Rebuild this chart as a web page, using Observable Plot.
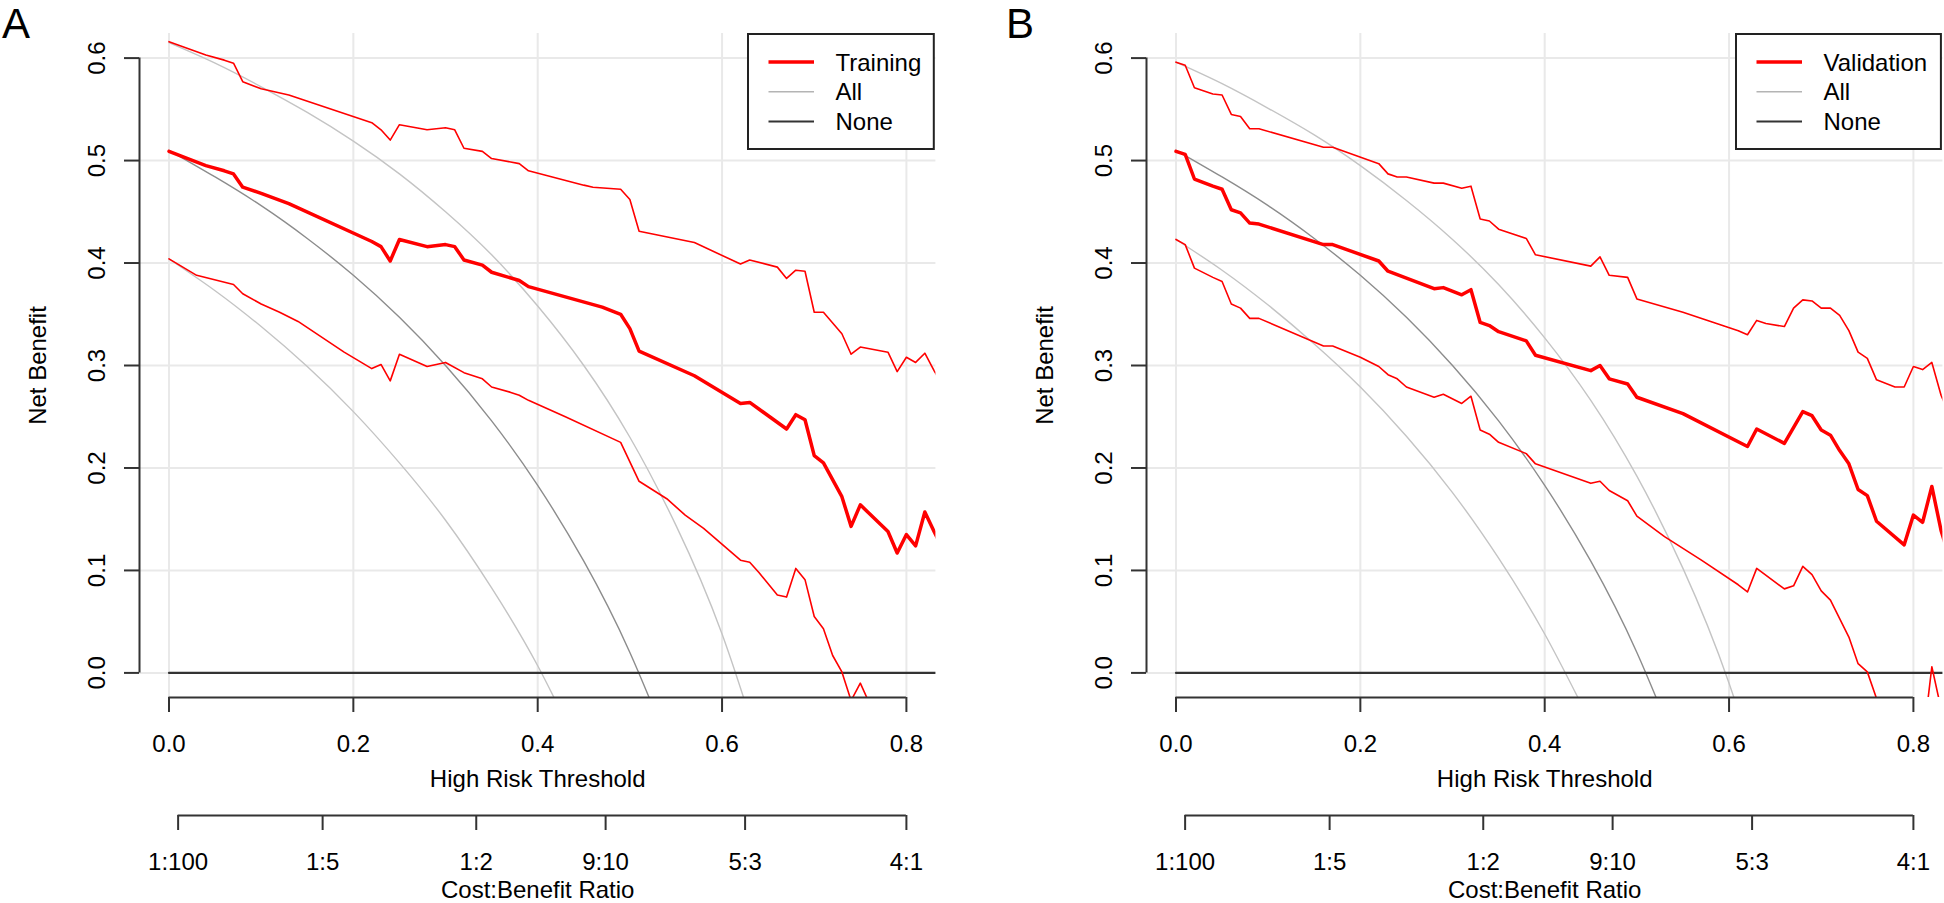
<!DOCTYPE html>
<html>
<head>
<meta charset="utf-8">
<script src="https://cdn.jsdelivr.net/npm/d3@7"></script>
<script src="https://cdn.jsdelivr.net/npm/@observablehq/plot@0.6"></script>
<style>
  html, body { margin: 0; padding: 0; background: #fff; }
  #wrap { position: relative; width: 1944px; height: 903px; overflow: hidden; font-family: "Liberation Sans", Arial, sans-serif; }
  .panel { position: absolute; top: 0; }
  .panel svg { max-width: none !important; }
  .letter { position: absolute; top: 0; font-size: 42px; line-height: normal; color: #000; }
</style>
</head>
<body>
<div id="wrap"></div>
<script>
// ---------------- data ----------------
const xTicks = [0, 0.2, 0.4, 0.6, 0.8];
const yTicks = [0, 0.1, 0.2, 0.3, 0.4, 0.5, 0.6];
const xLimits = [0, 0.8];
const yLimits = [0, 0.6];
const cbLabels = ["1:100", "1:5", "1:2", "9:10", "5:3", "4:1"];
const panelLetters = ["A", "B"];
const modelNames = ["Training", "Validation"];
const legendOthers = ["All", "None"];

// "None" reference
const noneT = [0, 0.84];
const noneV = [0, 0];

// "All" curves (read at threshold steps of 0.05)
const allT = [0, 0.05, 0.1, 0.15, 0.2, 0.25, 0.3, 0.35, 0.4, 0.45, 0.5, 0.55, 0.6, 0.65];
const allHiA  = [0.615, 0.595, 0.572, 0.547, 0.519, 0.487, 0.450, 0.408, 0.358, 0.300, 0.230, 0.144, 0.038, -0.100];
const allMidA = [0.510, 0.484, 0.456, 0.424, 0.388, 0.347, 0.300, 0.246, 0.183, 0.109, 0.020, -0.089];
const allLoA  = [0.404, 0.373, 0.338, 0.299, 0.255, 0.205, 0.149, 0.083, 0.007, -0.084];
const allHiB  = [0.596, 0.575, 0.551, 0.525, 0.495, 0.461, 0.423, 0.379, 0.327, 0.266, 0.192, 0.102, -0.010, -0.154];
const allMidB = [0.510, 0.484, 0.456, 0.424, 0.388, 0.347, 0.300, 0.246, 0.183, 0.109, 0.020, -0.089];
const allLoB  = [0.423, 0.393, 0.359, 0.321, 0.279, 0.231, 0.176, 0.112, 0.038, -0.049];

// Training (panel A)
const trainHiT = [0,0.04,0.06,0.07,0.08,0.10,0.13,0.22,0.23,0.24,0.25,0.28,0.30,0.31,0.32,0.34,0.35,0.38,0.39,0.45,0.46,0.49,0.50,0.51,0.57,0.62,0.63,0.66,0.67,0.68,0.69,0.70,0.71,0.73,0.74,0.75,0.78,0.79,0.80,0.81,0.82,0.83,0.84];
const trainHiV = [0.616,0.603,0.598,0.595,0.577,0.570,0.564,0.537,0.530,0.520,0.535,0.530,0.532,0.530,0.512,0.509,0.502,0.497,0.490,0.476,0.474,0.472,0.462,0.431,0.420,0.399,0.403,0.396,0.385,0.393,0.392,0.352,0.352,0.331,0.311,0.318,0.313,0.294,0.308,0.303,0.312,0.295,0.28];
const trainMidT = [0,0.04,0.06,0.07,0.08,0.10,0.13,0.22,0.23,0.24,0.25,0.28,0.30,0.31,0.32,0.34,0.35,0.38,0.39,0.47,0.49,0.50,0.51,0.57,0.62,0.63,0.67,0.68,0.69,0.70,0.71,0.73,0.74,0.75,0.78,0.79,0.80,0.81,0.82,0.83,0.84];
const trainMidV = [0.509,0.495,0.490,0.487,0.474,0.468,0.458,0.421,0.416,0.402,0.423,0.416,0.418,0.416,0.403,0.398,0.391,0.383,0.377,0.357,0.350,0.336,0.314,0.290,0.263,0.264,0.238,0.252,0.247,0.212,0.205,0.172,0.143,0.164,0.138,0.117,0.135,0.124,0.157,0.138,0.12];
const trainLoT = [0,0.03,0.07,0.08,0.10,0.12,0.14,0.19,0.22,0.23,0.24,0.25,0.28,0.30,0.32,0.34,0.35,0.37,0.38,0.39,0.43,0.49,0.51,0.54,0.56,0.58,0.62,0.63,0.64,0.66,0.67,0.68,0.69,0.70,0.71,0.72,0.73,0.74,0.75,0.76,0.77];
const trainLoV = [0.404,0.388,0.379,0.370,0.360,0.352,0.343,0.313,0.297,0.301,0.285,0.311,0.299,0.303,0.293,0.287,0.279,0.274,0.271,0.266,0.250,0.225,0.187,0.170,0.154,0.141,0.110,0.108,0.098,0.076,0.074,0.102,0.091,0.055,0.043,0.017,0.001,-0.027,-0.010,-0.030,-0.06];

// Validation (panel B)
const validHiT = [0,0.01,0.02,0.04,0.05,0.06,0.07,0.08,0.09,0.16,0.17,0.22,0.23,0.24,0.25,0.28,0.29,0.31,0.32,0.33,0.34,0.35,0.38,0.39,0.45,0.46,0.47,0.49,0.50,0.55,0.61,0.62,0.63,0.64,0.66,0.67,0.68,0.69,0.70,0.71,0.72,0.73,0.74,0.75,0.76,0.78,0.79,0.80,0.81,0.82,0.83,0.84];
const validHiV = [0.596,0.593,0.571,0.565,0.564,0.545,0.543,0.531,0.531,0.513,0.513,0.497,0.487,0.484,0.484,0.478,0.478,0.473,0.475,0.443,0.441,0.433,0.424,0.408,0.397,0.406,0.388,0.386,0.365,0.352,0.334,0.330,0.344,0.341,0.338,0.356,0.364,0.363,0.356,0.356,0.349,0.334,0.313,0.307,0.286,0.279,0.279,0.299,0.296,0.303,0.271,0.25];
const validMidT = [0,0.01,0.02,0.04,0.05,0.06,0.07,0.08,0.09,0.16,0.17,0.22,0.23,0.28,0.29,0.31,0.32,0.33,0.34,0.35,0.38,0.39,0.45,0.46,0.47,0.49,0.50,0.55,0.62,0.63,0.66,0.68,0.69,0.70,0.71,0.72,0.73,0.74,0.75,0.76,0.79,0.80,0.81,0.82,0.83,0.84];
const validMidV = [0.509,0.506,0.482,0.475,0.472,0.452,0.449,0.439,0.438,0.418,0.418,0.402,0.392,0.375,0.376,0.369,0.374,0.342,0.339,0.333,0.324,0.310,0.295,0.300,0.287,0.282,0.269,0.253,0.221,0.238,0.224,0.255,0.251,0.237,0.232,0.217,0.204,0.179,0.173,0.148,0.125,0.154,0.147,0.182,0.139,0.11];
const validLoT = [0,0.01,0.02,0.04,0.05,0.06,0.07,0.08,0.09,0.16,0.17,0.20,0.22,0.23,0.24,0.25,0.28,0.29,0.31,0.32,0.33,0.34,0.35,0.38,0.39,0.45,0.46,0.47,0.49,0.50,0.53,0.57,0.61,0.62,0.63,0.66,0.67,0.68,0.69,0.70,0.71,0.73,0.74,0.75,0.76,0.77,0.80,0.81,0.82,0.83];
const validLoV = [0.423,0.418,0.395,0.386,0.382,0.360,0.356,0.346,0.346,0.319,0.319,0.308,0.299,0.291,0.287,0.279,0.269,0.272,0.263,0.270,0.237,0.233,0.225,0.214,0.204,0.185,0.187,0.178,0.168,0.153,0.133,0.110,0.086,0.079,0.102,0.082,0.085,0.104,0.096,0.080,0.071,0.035,0.009,0.001,-0.025,-0.07,-0.09,-0.07,0.006,-0.035];

// ---------------- drawing ----------------
const FONT = "'Liberation Sans', Arial, Helvetica, sans-serif";
const AXIS = "#333";
const RED = "#ff0000";
const GRID = "#e9e9e9";
const ALL_LIGHT = "#c4c4c4";
const ALL_DARK = "#8c8c8c";
const NONE_COL = "#333";

const pad = ([a, b]) => [a - 0.04 * (b - a), b + 0.04 * (b - a)];
const xDom = pad(xLimits);
const yDom = pad(yLimits);
const cbPos = cbLabels.map(l => { const [a, b] = l.split(":").map(Number); return a / (a + b); });
const series = (t, v) => t.map((x, i) => ({t: x, v: v[i]}));

function panelPlot(p) {
  const frameW = 796.4;
  return Plot.plot({
    width: p.svgW, height: 903,
    marginLeft: 139, marginRight: p.svgW - 139 - frameW,
    marginTop: 33, marginBottom: 206,
    x: {domain: xDom},
    y: {domain: yDom},
    style: {fontFamily: FONT, fontSize: "24px", color: "#000", background: "transparent", overflow: "visible"},
    marks: [
      Plot.gridX(xTicks, {stroke: GRID, strokeOpacity: 1, strokeWidth: 2}),
      Plot.gridY(yTicks, {stroke: GRID, strokeOpacity: 1, strokeWidth: 2}),
      Plot.line(series(allT, p.allLo), {x: "t", y: "v", curve: "natural", stroke: ALL_LIGHT, strokeWidth: 1.4, clip: true}),
      Plot.line(series(allT, p.allHi), {x: "t", y: "v", curve: "natural", stroke: ALL_LIGHT, strokeWidth: 1.4, clip: true}),
      Plot.line(series(allT, p.allMid), {x: "t", y: "v", curve: "natural", stroke: ALL_DARK, strokeWidth: 1.4, clip: true}),
      Plot.line(series(noneT, noneV), {x: "t", y: "v", stroke: NONE_COL, strokeWidth: 2.2, clip: true}),
      Plot.line(series(p.hiT, p.hiV), {x: "t", y: "v", stroke: RED, strokeWidth: 1.6, clip: true}),
      Plot.line(series(p.loT, p.loV), {x: "t", y: "v", stroke: RED, strokeWidth: 1.6, clip: true}),
      Plot.line(series(p.midT, p.midV), {x: "t", y: "v", stroke: RED, strokeWidth: 3.5, clip: true}),
      // x axis (threshold)
      Plot.axisX(xTicks, {tickSize: 15, tickPadding: 22, tickFormat: d3.format(".1f"), stroke: AXIS, strokeWidth: 2, fill: "#000", label: null}),
      Plot.ruleY([yDom[0]], {x1: xTicks[0], x2: xTicks[xTicks.length - 1], stroke: AXIS, strokeWidth: 2}),
      // cost:benefit axis
      Plot.axisX(cbPos, {tickSize: 15, tickPadding: 22, dy: 118, tickFormat: d => cbLabels[cbPos.indexOf(d)], stroke: AXIS, strokeWidth: 2, fill: "#000", label: null}),
      Plot.ruleY([yDom[0]], {x1: cbPos[0], x2: cbPos[cbPos.length - 1], dy: 118, stroke: AXIS, strokeWidth: 2}),
      // y axis
      Plot.axisY(yTicks, {tickSize: 15, tickRotate: -90, tickPadding: 19.5, tickFormat: d3.format(".1f"), stroke: AXIS, strokeWidth: 2, fill: "#000", label: null}),
      Plot.ruleX([xDom[0]], {y1: yTicks[0], y2: yTicks[yTicks.length - 1], stroke: AXIS, strokeWidth: 2}),
      // titles
      Plot.text(["High Risk Threshold"], {text: d => d, frameAnchor: "bottom", dy: 89.5, lineAnchor: "bottom", fill: "#000"}),
      Plot.text(["Cost:Benefit Ratio"], {text: d => d, frameAnchor: "bottom", dy: 200, lineAnchor: "bottom", fill: "#000"}),
      Plot.text(["Net Benefit"], {text: d => d, frameAnchor: "left", rotate: -90, dx: -94, lineAnchor: "bottom", textAnchor: "middle", fill: "#000"})
    ]
  });
}

function legendBox(name, left, width) {
  const h = 117;
  const svg = d3.create("svg")
    .attr("width", width).attr("height", h)
    .style("position", "absolute").style("left", left + "px").style("top", "33.3px")
    .style("font-family", FONT).style("font-size", "24px");
  svg.append("rect").attr("x", 1).attr("y", 1).attr("width", width - 2).attr("height", h - 2)
    .attr("fill", "#fff").attr("stroke", "#222").attr("stroke-width", 2);
  const rows = [
    {label: name, stroke: RED, w: 3.6},
    {label: legendOthers[0], stroke: "#b4b4b4", w: 1.5},
    {label: legendOthers[1], stroke: NONE_COL, w: 2}
  ];
  rows.forEach((r, i) => {
    const y = 29 + i * 29.7;
    svg.append("line").attr("x1", 21.5).attr("x2", 67).attr("y1", y).attr("y2", y)
      .attr("stroke", r.stroke).attr("stroke-width", r.w);
    svg.append("text").attr("x", 88.5).attr("y", y + 8.6).attr("fill", "#000").text(r.label);
  });
  return svg.node();
}

const wrap = document.getElementById("wrap");
const panels = [
  {left: 0, svgW: 972, allHi: allHiA, allMid: allMidA, allLo: allLoA,
   hiT: trainHiT, hiV: trainHiV, midT: trainMidT, midV: trainMidV, loT: trainLoT, loV: trainLoV,
   legendLeft: 747.4, legendW: 187.8, letterLeft: 2},
  {left: 1007, svgW: 937, allHi: allHiB, allMid: allMidB, allLo: allLoB,
   hiT: validHiT, hiV: validHiV, midT: validMidT, midV: validMidV, loT: validLoT, loV: validLoV,
   legendLeft: 1735, legendW: 206.9, letterLeft: 1006}
];
panels.forEach((p, i) => {
  const div = document.createElement("div");
  div.className = "panel";
  div.style.left = p.left + "px";
  div.style.width = p.svgW + "px";
  div.appendChild(panelPlot(p));
  wrap.appendChild(div);
  wrap.appendChild(legendBox(modelNames[i], p.legendLeft, p.legendW));
  const L = document.createElement("div");
  L.className = "letter";
  L.style.left = p.letterLeft + "px";
  L.textContent = panelLetters[i];
  wrap.appendChild(L);
});
</script>
</body>
</html>
